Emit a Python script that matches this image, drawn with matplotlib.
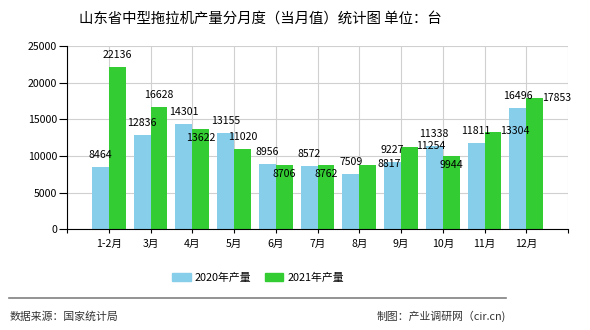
import numpy as np
import matplotlib
matplotlib.use('Agg')
import matplotlib.pyplot as plt
from matplotlib.patches import Patch
from matplotlib.lines import Line2D

plt.rcParams['font.family'] = ['Noto Sans CJK SC', 'DejaVu Sans']

months = ['1-2月', '3月', '4月', '5月', '6月', '7月', '8月', '9月', '10月', '11月', '12月']
prod2020 = [8464, 12836, 14301, 13155, 8956, 8572, 7509, 9227, 11338, 11811, 16496]
prod2021 = [22136, 16628, 13622, 11020, 8706, 8762, 8817, 11254, 9944, 13304, 17853]

# where each value label sits: 'a' above the bar, 'b' just under its top, 'r' to the right
place2020 = ['a'] * 11
place2021 = ['a', 'a', 'b', 'a', 'b', 'b', 'r', 'r', 'b', 'r', 'r']

c2020 = '#87ceeb'
c2021 = '#33cc33'

fig = plt.figure(figsize=(5.9, 3.3), dpi=100)
ax = fig.add_axes([67 / 590, 1 - 229.3 / 330, 501 / 590, 183.3 / 330])

x = np.arange(len(months))
w = 0.407
b1 = ax.bar(x - w / 2, prod2020, w, color=c2020, zorder=2)
b2 = ax.bar(x + w / 2, prod2021, w, color=c2021, zorder=2)

offs = {'a': (0, 12), 'b': (0, -8.5), 'r': (21.5, 0.5)}
for bars, vals, places in ((b1, prod2020, place2020), (b2, prod2021, place2021)):
    for bar, v, p in zip(bars, vals, places):
        cx = bar.get_x() + bar.get_width() / 2
        ax.annotate(str(v), (cx, v), xytext=offs[p], textcoords='offset pixels',
                    ha='center', va='center', fontsize=7.6, color='black', zorder=4)

ax.set_xlim(-1, 11)
ax.set_ylim(0, 25000)
ax.set_yticks(range(0, 25001, 5000))
ax.set_xticks(np.arange(-1, 12))
ax.set_xticklabels([''] + months + [''])
ax.tick_params(axis='x', length=3, width=0.8, pad=4, labelsize=7.6)
ax.tick_params(axis='y', length=6, width=0.8, pad=1, labelsize=7.6)

ax.grid(True, color='#d0d0d0', linewidth=0.8, zorder=0)
ax.set_axisbelow(True)
for s in ['top', 'right']:
    ax.spines[s].set_visible(False)
ax.spines['left'].set_linewidth(0.8)
ax.spines['bottom'].set_linewidth(0.8)

fig.text(260 / 590, 1 - 18.5 / 330, '山东省中型拖拉机产量分月度（当月值）统计图 单位：台',
         ha='center', va='center', fontsize=10.4, color='black')

handles = [Patch(color=c2020, label='2020年产量'), Patch(color=c2021, label='2021年产量')]
fig.legend(handles=handles, loc='center', bbox_to_anchor=(258 / 590, 1 - 277.7 / 330),
           ncol=2, frameon=False, fontsize=7.8, handlelength=1.75, handleheight=0.72,
           handletextpad=0.35, columnspacing=1.2)

fig.add_artist(Line2D([9 / 590, 506 / 590], [1 - 298.3 / 330, 1 - 298.3 / 330],
                      color='#808080', linewidth=1.2))
fig.text(10 / 590, 1 - 316.7 / 330, '数据来源：国家统计局', ha='left', va='center',
         fontsize=7.8, color='#333333')
fig.text(506 / 590, 1 - 316.7 / 330, '制图：产业调研网（cir.cn)', ha='right', va='center',
         fontsize=7.8, color='#333333')

fig.savefig('out.png', dpi=100)
